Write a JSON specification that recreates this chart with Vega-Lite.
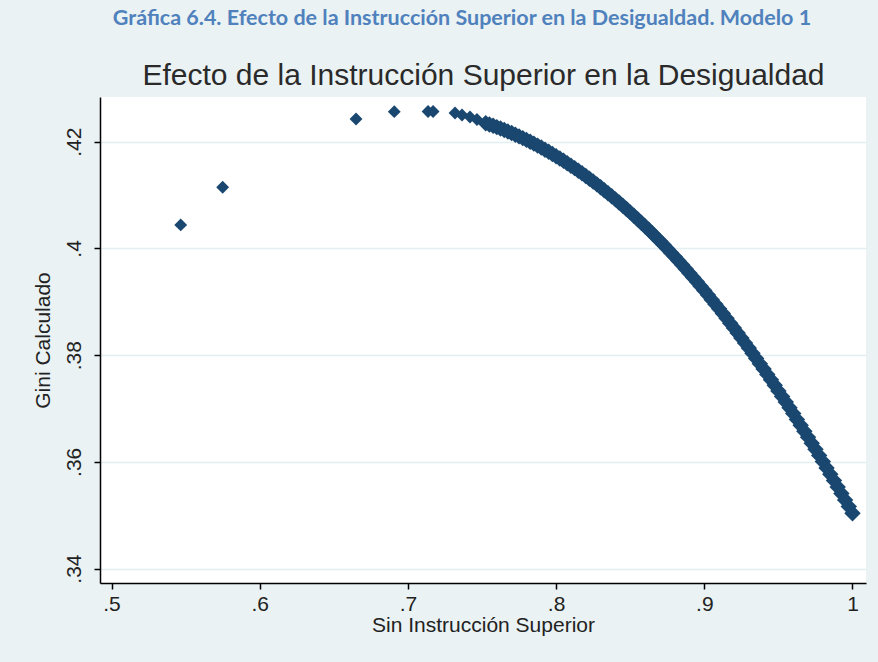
{
  "$schema": "https://vega.github.io/schema/vega-lite/v6.json",
  "autosize": "none",
  "width": 766,
  "height": 486,
  "padding": {"left": 100, "top": 97, "right": 12, "bottom": 79},
  "background": "#eaf2f3",
  "config": {
    "view": {"fill": "white", "stroke": null},
    "font": "Liberation Sans"
  },
  "title": {
    "text": "Gráfica 6.4. Efecto de la Instrucción Superior en la Desigualdad. Modelo 1",
    "font": "Lato",
    "fontWeight": "bold",
    "fontSize": 21.5,
    "color": "#4f81bd",
    "anchor": "middle",
    "frame": "group",
    "dx": -21,
    "offset": 31
  },
  "data": {
    "values": [
      {"sin_instruccion": 0.5467, "gini": 0.4044},
      {"sin_instruccion": 0.5750, "gini": 0.41146},
      {"sin_instruccion": 0.6650, "gini": 0.42425},
      {"sin_instruccion": 0.6908, "gini": 0.42562},
      {"sin_instruccion": 0.7136, "gini": 0.42566},
      {"sin_instruccion": 0.7170, "gini": 0.42566},
      {"sin_instruccion": 0.7318, "gini": 0.42537},
      {"sin_instruccion": 0.7365, "gini": 0.4250},
      {"sin_instruccion": 0.7419, "gini": 0.42463},
      {"sin_instruccion": 0.7466, "gini": 0.42416},
      {"sin_instruccion": 0.7525, "gini": 0.42345},
      {"sin_instruccion": 0.7550, "gini": 0.42322},
      {"sin_instruccion": 0.7575, "gini": 0.42298},
      {"sin_instruccion": 0.7600, "gini": 0.42272},
      {"sin_instruccion": 0.7625, "gini": 0.42246},
      {"sin_instruccion": 0.7650, "gini": 0.42219},
      {"sin_instruccion": 0.7675, "gini": 0.4219},
      {"sin_instruccion": 0.7700, "gini": 0.42161},
      {"sin_instruccion": 0.7725, "gini": 0.42131},
      {"sin_instruccion": 0.7750, "gini": 0.42099},
      {"sin_instruccion": 0.7775, "gini": 0.42067},
      {"sin_instruccion": 0.7800, "gini": 0.42033},
      {"sin_instruccion": 0.7825, "gini": 0.41999},
      {"sin_instruccion": 0.7850, "gini": 0.41963},
      {"sin_instruccion": 0.7875, "gini": 0.41926},
      {"sin_instruccion": 0.7900, "gini": 0.41889},
      {"sin_instruccion": 0.7925, "gini": 0.4185},
      {"sin_instruccion": 0.7950, "gini": 0.4181},
      {"sin_instruccion": 0.7975, "gini": 0.4177},
      {"sin_instruccion": 0.8000, "gini": 0.41728},
      {"sin_instruccion": 0.8025, "gini": 0.41685},
      {"sin_instruccion": 0.8050, "gini": 0.41641},
      {"sin_instruccion": 0.8075, "gini": 0.41596},
      {"sin_instruccion": 0.8100, "gini": 0.4155},
      {"sin_instruccion": 0.8125, "gini": 0.41504},
      {"sin_instruccion": 0.8150, "gini": 0.41456},
      {"sin_instruccion": 0.8175, "gini": 0.41407},
      {"sin_instruccion": 0.8200, "gini": 0.41356},
      {"sin_instruccion": 0.8225, "gini": 0.41305},
      {"sin_instruccion": 0.8250, "gini": 0.41253},
      {"sin_instruccion": 0.8275, "gini": 0.4120},
      {"sin_instruccion": 0.8300, "gini": 0.41146},
      {"sin_instruccion": 0.8325, "gini": 0.41091},
      {"sin_instruccion": 0.8350, "gini": 0.41035},
      {"sin_instruccion": 0.8375, "gini": 0.40977},
      {"sin_instruccion": 0.8400, "gini": 0.40919},
      {"sin_instruccion": 0.8425, "gini": 0.4086},
      {"sin_instruccion": 0.8450, "gini": 0.40799},
      {"sin_instruccion": 0.8475, "gini": 0.40738},
      {"sin_instruccion": 0.8500, "gini": 0.40675},
      {"sin_instruccion": 0.8525, "gini": 0.40612},
      {"sin_instruccion": 0.8550, "gini": 0.40547},
      {"sin_instruccion": 0.8575, "gini": 0.40482},
      {"sin_instruccion": 0.8600, "gini": 0.40415},
      {"sin_instruccion": 0.8625, "gini": 0.40348},
      {"sin_instruccion": 0.8650, "gini": 0.40279},
      {"sin_instruccion": 0.8675, "gini": 0.40209},
      {"sin_instruccion": 0.8700, "gini": 0.40139},
      {"sin_instruccion": 0.8725, "gini": 0.40067},
      {"sin_instruccion": 0.8750, "gini": 0.39994},
      {"sin_instruccion": 0.8775, "gini": 0.3992},
      {"sin_instruccion": 0.8800, "gini": 0.39846},
      {"sin_instruccion": 0.8825, "gini": 0.3977},
      {"sin_instruccion": 0.8850, "gini": 0.39693},
      {"sin_instruccion": 0.8875, "gini": 0.39615},
      {"sin_instruccion": 0.8900, "gini": 0.39536},
      {"sin_instruccion": 0.8925, "gini": 0.39456},
      {"sin_instruccion": 0.8950, "gini": 0.39375},
      {"sin_instruccion": 0.8975, "gini": 0.39293},
      {"sin_instruccion": 0.9000, "gini": 0.3921},
      {"sin_instruccion": 0.9025, "gini": 0.39125},
      {"sin_instruccion": 0.9050, "gini": 0.3904},
      {"sin_instruccion": 0.9075, "gini": 0.38954},
      {"sin_instruccion": 0.9100, "gini": 0.38867},
      {"sin_instruccion": 0.9125, "gini": 0.38779},
      {"sin_instruccion": 0.9150, "gini": 0.38689},
      {"sin_instruccion": 0.9175, "gini": 0.38599},
      {"sin_instruccion": 0.9200, "gini": 0.38508},
      {"sin_instruccion": 0.9225, "gini": 0.38415},
      {"sin_instruccion": 0.9250, "gini": 0.38322},
      {"sin_instruccion": 0.9275, "gini": 0.38227},
      {"sin_instruccion": 0.9300, "gini": 0.38132},
      {"sin_instruccion": 0.9325, "gini": 0.38035},
      {"sin_instruccion": 0.9350, "gini": 0.37938},
      {"sin_instruccion": 0.9375, "gini": 0.37839},
      {"sin_instruccion": 0.9400, "gini": 0.37739},
      {"sin_instruccion": 0.9425, "gini": 0.37639},
      {"sin_instruccion": 0.9450, "gini": 0.37537},
      {"sin_instruccion": 0.9475, "gini": 0.37434},
      {"sin_instruccion": 0.9500, "gini": 0.3733},
      {"sin_instruccion": 0.9525, "gini": 0.37226},
      {"sin_instruccion": 0.9550, "gini": 0.3712},
      {"sin_instruccion": 0.9575, "gini": 0.37013},
      {"sin_instruccion": 0.9600, "gini": 0.36905},
      {"sin_instruccion": 0.9625, "gini": 0.36796},
      {"sin_instruccion": 0.9650, "gini": 0.36686},
      {"sin_instruccion": 0.9675, "gini": 0.36575},
      {"sin_instruccion": 0.9700, "gini": 0.36463},
      {"sin_instruccion": 0.9725, "gini": 0.3635},
      {"sin_instruccion": 0.9750, "gini": 0.36236},
      {"sin_instruccion": 0.9775, "gini": 0.36121},
      {"sin_instruccion": 0.9800, "gini": 0.36005},
      {"sin_instruccion": 0.9825, "gini": 0.35887},
      {"sin_instruccion": 0.9850, "gini": 0.35769},
      {"sin_instruccion": 0.9875, "gini": 0.3565},
      {"sin_instruccion": 0.9900, "gini": 0.3553},
      {"sin_instruccion": 0.9925, "gini": 0.35408},
      {"sin_instruccion": 0.9950, "gini": 0.35286},
      {"sin_instruccion": 0.9975, "gini": 0.35163},
      {"sin_instruccion": 1.0000, "gini": 0.35038}
    ]
  },
  "layer": [
    {
      "mark": {"type": "point", "opacity": 0},
      "encoding": {
        "x": {
          "field": "sin_instruccion",
          "type": "quantitative",
          "scale": {"domain": [0.49224, 1.00911], "nice": false, "zero": false},
          "axis": {
            "orient": "top",
            "domain": false,
            "ticks": false,
            "labels": false,
            "grid": false,
            "title": "Efecto de la Instrucción Superior en la Desigualdad",
            "titleFont": "Liberation Sans",
            "titleFontSize": 30,
            "titleFontWeight": "normal",
            "titleColor": "#2a2a2a",
            "titleBaseline": "alphabetic",
            "titlePadding": 13
          }
        },
        "y": {
          "field": "gini",
          "type": "quantitative",
          "scale": {"domain": [0.3373, 0.42837], "nice": false, "zero": false},
          "axis": null
        }
      }
    },
    {
      "transform": [{"filter": "datum.sin_instruccion < 0.75"}],
      "mark": {"type": "point", "shape": "diamond", "filled": true, "size": 165, "color": "#1a476f", "opacity": 1},
      "encoding": {
        "x": {"field": "sin_instruccion", "type": "quantitative", "axis": null},
        "y": {"field": "gini", "type": "quantitative", "axis": null}
      }
    },
    {
      "transform": [{"filter": "datum.sin_instruccion >= 0.75"}],
      "mark": {"type": "point", "shape": "diamond", "filled": true, "size": 270, "color": "#1a476f", "opacity": 1},
      "encoding": {
        "x": {
          "field": "sin_instruccion",
          "type": "quantitative",
          "axis": {
            "orient": "bottom",
            "values": [0.5, 0.6, 0.7, 0.8, 0.9, 1],
            "labelExpr": "datum.value >= 1 ? format(datum.value, '~g') : substring(format(datum.value, '~g'), 1)",
            "labelFont": "Liberation Sans",
            "labelFontSize": 21,
            "labelColor": "#222222",
            "labelPadding": 4,
            "labelFlush": false,
            "tickColor": "black",
            "tickSize": 6,
            "tickWidth": 1.5,
            "domainColor": "black",
            "domainWidth": 1.5,
            "grid": false,
            "title": "Sin Instrucción Superior",
            "titleFont": "Liberation Sans",
            "titleFontSize": 21,
            "titleFontWeight": "normal",
            "titleColor": "#222222",
            "titlePadding": 0
          }
        },
        "y": {
          "field": "gini",
          "type": "quantitative",
          "axis": {
            "orient": "left",
            "values": [0.34, 0.36, 0.38, 0.40, 0.42],
            "labelExpr": "substring(format(datum.value, '~g'), 1)",
            "labelAngle": -90,
            "labelAlign": "center",
            "labelBaseline": "alphabetic",
            "labelFont": "Liberation Sans",
            "labelFontSize": 21,
            "labelColor": "#222222",
            "labelPadding": 14,
            "labelFlush": false,
            "tickColor": "black",
            "tickSize": 6,
            "tickWidth": 1.5,
            "domainColor": "black",
            "domainWidth": 1.5,
            "grid": true,
            "gridColor": "#e3eef0",
            "gridWidth": 1.5,
            "title": "Gini Calculado",
            "titleFont": "Liberation Sans",
            "titleFontSize": 21,
            "titleFontWeight": "normal",
            "titleColor": "#222222",
            "titlePadding": 10
          }
        }
      }
    }
  ],
  "resolve": {"axis": {"x": "independent", "y": "independent"}}
}
